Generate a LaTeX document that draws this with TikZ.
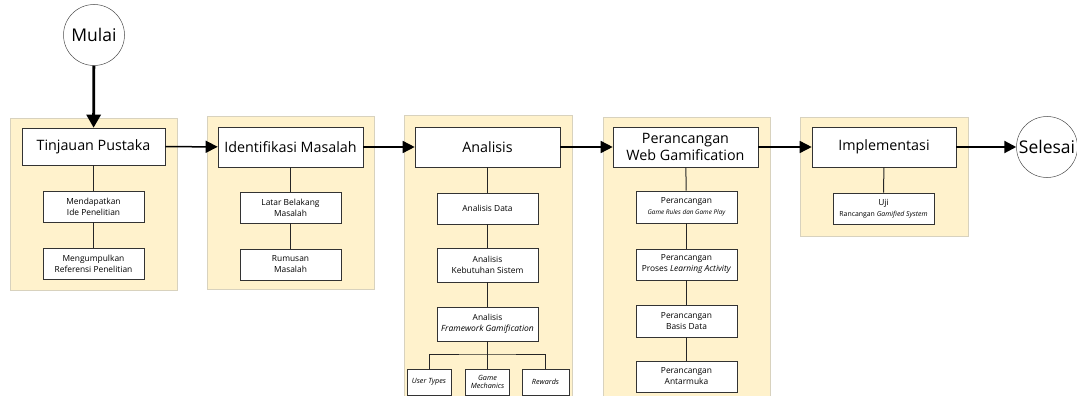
\documentclass[tikz,border=0pt]{standalone}
\usepackage{fontspec}
\setmainfont{Open Sans}
\usetikzlibrary{arrows.meta}
\definecolor{panelfill}{HTML}{FFF2CC}
\definecolor{paneldraw}{HTML}{D8D2BE}
\begin{document}
\begin{tikzpicture}[x=1pt,y=-1pt,
  panel/.style={draw=paneldraw,fill=panelfill,line width=0.6pt},
  mainbox/.style={draw=black!80,fill=white,line width=0.6pt,minimum width=145pt,minimum height=40pt,inner sep=1pt,align=center,font=\fontsize{14.3}{17}\selectfont},
  subbox/.style={draw=black!80,fill=white,line width=0.6pt,minimum width=101pt,minimum height=31pt,inner sep=1pt,align=center,font=\fontsize{8.4}{11}\selectfont},
  leafbox/.style={draw=black!80,fill=white,line width=0.6pt,minimum height=26pt,inner sep=1pt,align=center,font=\fontsize{7.2}{8.5}\selectfont\itshape},
  term/.style={circle,draw=black!70,fill=white,line width=0.5pt,minimum size=61pt,inner sep=0pt,font=\fontsize{17.5}{20}\selectfont},
  link/.style={line width=1pt,black!85},
  flow/.style={line width=1.5pt,-{Triangle[length=12pt,width=12pt]}},
  bigflow/.style={line width=2.8pt,-{Triangle[length=13pt,width=14pt]}}
]
\useasboundingbox (0,0) rectangle (1077,396);
% panels
\path[panel] (10,118) rectangle (177,290);
\path[panel] (207,116) rectangle (374,289);
\path[panel] (404,115) rectangle (572,400);
\path[panel] (603,117) rectangle (770,400);
\path[panel] (800,117) rectangle (968,236);

% terminals
\node[term] (mulai) at (94,35) {Mulai};
\node[term] (selesai) at (1047,147) {Selesai};

% column 1
\node[mainbox,minimum width=143pt,minimum height=37pt] (tp) at (93.5,146.5) {Tinjauan Pustaka};
\node[subbox] (tp1) at (93.5,206.5) {Mendapatkan\\Ide Penelitian};
\node[subbox] (tp2) at (93.5,263.5) {Mengumpulkan\\Referensi Penelitian};

% column 2
\node[mainbox] (im) at (290.5,147) {Identifikasi Masalah};
\node[subbox] (im1) at (290.5,207.5) {Latar Belakang\\Masalah};
\node[subbox] (im2) at (290.5,264.5) {Rumusan\\Masalah};

% column 3
\node[mainbox] (an) at (487.5,147) {Analisis};
\node[subbox] (an1) at (487.5,208.5) {Analisis Data};
\node[subbox,minimum height=34pt] (an2) at (487.5,265) {Analisis\\Kebutuhan Sistem};
\node[subbox,minimum height=34pt] (an3) at (487.5,324) {Analisis\\{\fontsize{8.5}{10}\selectfont\itshape Framework Gamification}};
\node[leafbox,minimum width=44pt] (ut) at (429,382) {User Types};
\node[leafbox,minimum width=44pt] (gm) at (487.5,382) {Game\\Mechanics};
\node[leafbox,minimum width=47pt] (rw) at (545.5,382) {Rewards};
\coordinate (br) at (487.5,354);

% column 4
\node[mainbox] (pw) at (685.5,147) {Perancangan\\Web Gamification};
\node[subbox,minimum height=32pt] (p1) at (686.5,207) {Perancangan\\{\fontsize{6.4}{8.5}\selectfont\itshape Game Rules dan Game Play}};
\node[subbox] (p2) at (686.5,264.5) {Perancangan\\Proses \textit{Learning Activity}};
\node[subbox,minimum height=32pt] (p3) at (686.5,321) {Perancangan\\Basis Data};
\node[subbox] (p4) at (686.5,376.5) {Perancangan\\Antarmuka};

% column 5
\node[mainbox,minimum width=144pt] (imp) at (884,147) {Implementasi};
\node[subbox] (uji) at (883.5,208.5) {Uji\\{\fontsize{6.9}{8.5}\selectfont Rancangan \textit{Gamified System}}};

% vertical links
\draw[link] (tp) -- (tp1);
\draw[link] (tp1) -- (tp2);
\draw[link] (im) -- (im1);
\draw[link] (im1) -- (im2);
\draw[link] (an) -- (an1);
\draw[link] (an1) -- (an2);
\draw[link] (an2) -- (an3);
\draw[link] (an3) -- (br);
\draw[link] (ut.north) |- (br) -| (rw.north);
\draw[link] (br) -- (gm.north);
\draw[link] (pw) -- (p1);
\draw[link] (p1) -- (p2);
\draw[link] (p2) -- (p3);
\draw[link] (p3) -- (p4);
\draw[link] (imp) -- (uji);

% flow arrows
\draw[bigflow] (mulai) -- (tp);
\draw[flow] (tp) -- (im);
\draw[flow] (im) -- (an);
\draw[flow] (an) -- (pw);
\draw[flow] (pw) -- (imp);
\draw[flow,line width=2.2pt] (imp) -- (selesai);
\end{tikzpicture}
\end{document}
